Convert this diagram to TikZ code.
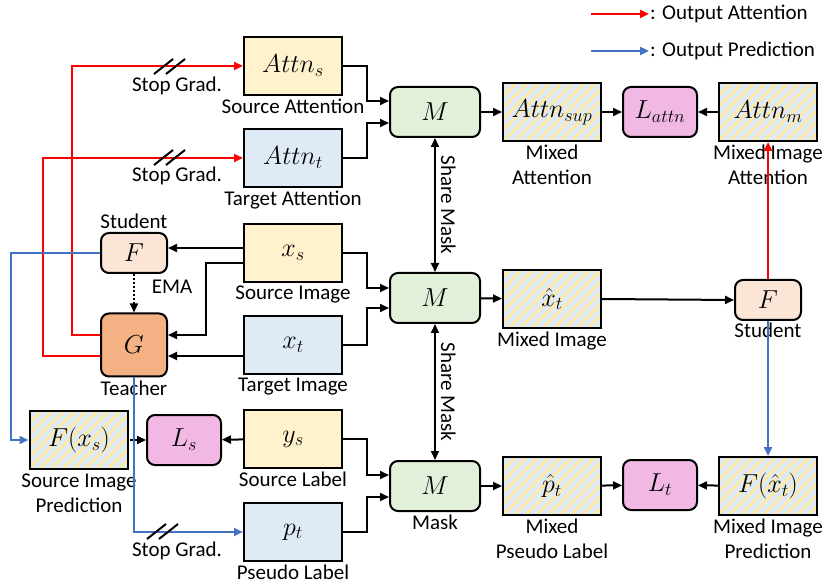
\documentclass[tikz,border=0pt]{standalone}
\usepackage{fix-cm}
\usepackage{fontspec}
\setmainfont{Carlito}
\usetikzlibrary{arrows.meta,patterns.meta,positioning}

\definecolor{boxyel}{HTML}{FFF2CC}
\definecolor{boxblu}{HTML}{DEEBF7}
\definecolor{boxgrn}{HTML}{E2F0D9}
\definecolor{boxstu}{HTML}{FBE5D6}
\definecolor{boxtea}{HTML}{F4B183}
\definecolor{boxloss}{HTML}{F0B8E2}
\definecolor{outred}{HTML}{FF0000}
\definecolor{outblu}{HTML}{4472C4}
\definecolor{hatchyel}{HTML}{FFE9A8}

\tikzset{
  txt/.style={font=\fontsize{21}{25}\selectfont, inner sep=1pt, align=center},
  sym/.style={draw, line width=2pt, font=\fontsize{26}{30}\selectfont, inner sep=0pt},
  inbox/.style={sym, minimum width=98pt, minimum height=58pt},
  mixbox/.style={inbox, preaction={fill=boxblu},
    pattern={Lines[angle=45,distance=8pt,line width=3pt]}, pattern color=hatchyel},
  maskbox/.style={sym, rounded corners=8pt, fill=boxgrn, minimum width=90pt, minimum height=50pt},
  lossbox/.style={sym, rounded corners=8pt, fill=boxloss, minimum width=74pt, minimum height=50pt},
  netbox/.style={sym, rounded corners=8pt, minimum width=66pt, minimum height=40pt},
  arr/.style={line width=2pt, -{Triangle[length=9pt,width=8pt]}},
  outarr/.style={arr, line width=2.4pt},
  slash/.style={line width=2pt},
}

\begin{document}
\begin{tikzpicture}[x=1pt,y=-1pt]
  \useasboundingbox (0,0) rectangle (831,588);

  % inputs
  \node[inbox, fill=boxyel] (attns) at (293,66) {$Attn_s$};
  \node[inbox, fill=boxblu] (attnt) at (293,158) {$Attn_t$};
  \node[inbox, fill=boxyel] (xs) at (293,253) {$x_s$};
  \node[inbox, fill=boxblu] (xt) at (293,345) {$x_t$};
  \node[inbox, fill=boxyel] (ys) at (293,439) {$y_s$};
  \node[inbox, fill=boxblu] (pt) at (293,532) {$p_t$};
  \node[txt, below=2pt of attns] (attnslbl) {Source Attention};
  \node[txt, below=2pt of attnt] (attntlbl) {Target Attention};
  \node[txt, below=2pt of xs] (xslbl) {Source Image};
  \node[txt, below=2pt of xt] (xtlbl) {Target Image};
  \node[txt, below=2pt of ys] (yslbl) {Source Label};
  \node[txt, below=2pt of pt] (ptlbl) {Pseudo Label};

  % student / teacher
  \node[netbox, fill=boxstu] (stu) at (134,253) {$F$};
  \node[netbox, fill=boxtea, minimum height=63pt] (tea) at (134,345) {$G$};
  \node[txt, above=2pt of stu] (stulbl) {Student};
  \node[txt, below=2pt of tea] (tealbl) {Teacher};
  \node[txt] (ema) at (172,287) {EMA};
  \draw[line width=2pt, dotted, -{Triangle[length=9pt,width=8pt]}] (stu) -- (tea);

  % source prediction and loss
  \node[mixbox] (fxs) at (79,440) {$F(x_s)$};
  \node[txt, below=2pt of fxs] (fxslbl) {Source Image\\Prediction};
  \node[lossbox] (ls) at (184,440) {$L_s$};

  % mixing
  \node[maskbox] (m1) at (435,112) {$M$};
  \node[maskbox] (m2) at (435,298) {$M$};
  \node[maskbox] (m3) at (435,486) {$M$};
  \node[txt, below=2pt of m3] (m3lbl) {Mask};

  \node[mixbox] (attnsup) at (552,112) {$Attn_{sup}$};
  \node[mixbox] (xhat) at (552,299) {$\hat{x}_t$};
  \node[mixbox] (phat) at (552,486) {$\hat{p}_t$};
  \node[txt, below=2pt of attnsup] (attnsuplbl) {Mixed\\Attention};
  \node[txt, below=2pt of xhat] (xhatlbl) {Mixed Image};
  \node[txt, below=2pt of phat] (phatlbl) {Mixed\\Pseudo Label};

  \node[lossbox] (lattn) at (660,112) {$L_{attn}$};
  \node[lossbox] (lt) at (660,485) {$L_t$};

  \node[mixbox] (attnm) at (768,112) {$Attn_m$};
  \node[netbox, fill=boxstu] (stu2) at (768,300) {$F$};
  \node[mixbox] (fxhat) at (768,486) {$F(\hat{x}_t)$};
  \node[txt, below=2pt of attnm] (attnmlbl) {Mixed Image\\Attention};
  \node[txt, below=1pt of stu2] (stu2lbl) {Student};
  \node[txt, below=2pt of fxhat] (fxhatlbl) {Mixed Image\\Prediction};

  % into the mask boxes
  \draw[arr] (attns.east) -- ++(24,0) |- ([yshift=11pt]m1.west);
  \draw[arr] (attnt.east) -- ++(24,0) |- ([yshift=-11pt]m1.west);
  \draw[arr] (xs.east) -- ++(24,0) |- ([yshift=10pt]m2.west);
  \draw[arr] (xt.east) -- ++(24,0) |- ([yshift=-10pt]m2.west);
  \draw[arr] (ys.east) -- ++(24,0) |- ([yshift=11pt]m3.west);
  \draw[arr] (pt.east) -- ++(24,0) |- ([yshift=-11pt]m3.west);

  % share mask
  \draw[line width=2pt, {Triangle[length=9pt,width=8pt]}-{Triangle[length=9pt,width=8pt]}]
    (m1.south) -- node[txt, right=4pt, rotate=-90, anchor=south] {Share Mask} (m2.north);
  \draw[line width=2pt, {Triangle[length=9pt,width=8pt]}-{Triangle[length=9pt,width=8pt]}]
    (m2.south) -- node[txt, right=4pt, rotate=-90, anchor=south] {Share Mask} (m3.north);

  \draw[arr] (m1) -- (attnsup);
  \draw[arr] (m2) -- (xhat);
  \draw[arr] (m3) -- (phat);
  \draw[arr] (attnsup) -- (lattn);
  \draw[arr] (attnm) -- (lattn);
  \draw[arr] (phat) -- (lt);
  \draw[arr] (fxhat) -- (lt);
  \draw[arr] (xhat.east) -- (stu2.west);

  % images into the networks
  \draw[arr] ([yshift=5pt]xs.west) -- ([yshift=5pt]stu.east);
  \draw[arr] ([yshift=-10pt]xs.west) -- ++(-37,0) |- ([yshift=10pt]tea.east);
  \draw[arr] ([yshift=-11pt]xt.west) -- ([yshift=-11pt]tea.east);
  \draw[arr] (ys) -- (ls);
  \draw[arr] (fxs) -- (ls);

  % outputs
  \draw[outarr, outred] ([yshift=10pt]tea.west) -- ++(-28,0) |- (attns.west);
  \draw[outarr, outred] ([yshift=-11pt]tea.west) -- ++(-57,0) |- (attnt.west);
  \draw[outarr, outred] (stu2) -- (attnm);
  \draw[outarr, outblu] (stu.west) -- ++(-89,0) |- (fxs.west);
  \draw[outarr, outblu] (tea.south) |- (pt.west);
  \draw[outarr, outblu] (stu2) -- (fxhat);

  % stop gradient marks
  \coordinate (sg1) at (170,67);
  \coordinate (sg2) at (170,158);
  \coordinate (sg3) at (163,532);
  \foreach \c in {sg1,sg2,sg3}
    \draw[slash] (\c) ++(-16,7) -- ++(19,-15) (\c) ++(-4,7) -- ++(19,-15);
  \node[txt] (sg1lbl) at (177,86) {Stop Grad.};
  \node[txt] (sg2lbl) at (177,176) {Stop Grad.};
  \node[txt] (sg3lbl) at (177,551) {Stop Grad.};

  % legend
  \coordinate (lgr) at (591,14);
  \coordinate (lgb) at (591,51);
  \node[txt, anchor=west] (lga) at (649,14) {: Output Attention};
  \node[txt, anchor=west] (lgp) at (649,51) {: Output Prediction};
  \draw[outarr, outred] (lgr) -- (lga.west);
  \draw[outarr, outblu] (lgb) -- (lgp.west);
\end{tikzpicture}
\end{document}
